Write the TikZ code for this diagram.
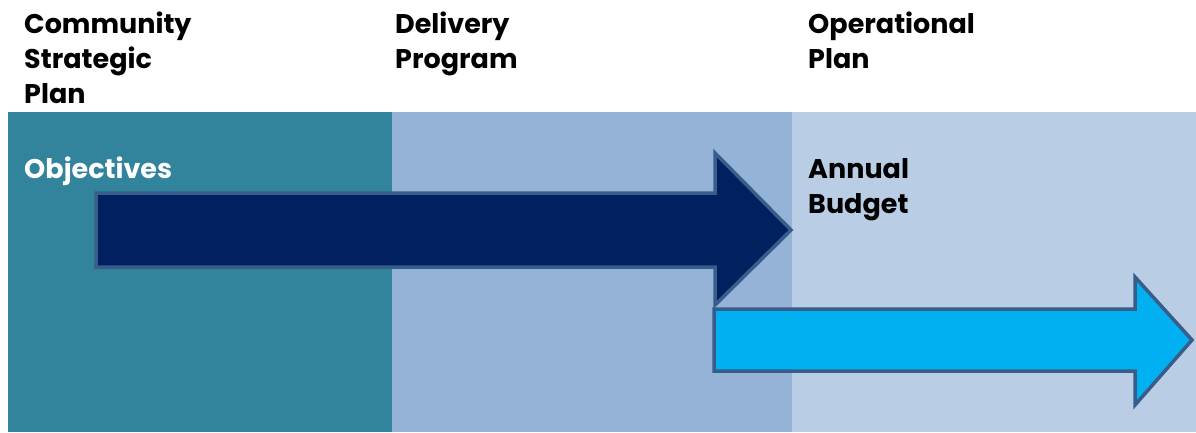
\documentclass[tikz,border=0pt]{standalone}
\usepackage{fontspec}
\setmainfont{Poppins}
\begin{document}
\begin{tikzpicture}[x=1pt,y=-1pt,
  bigarrow/.style={draw=arrowedge,line width=3.5pt,line join=miter},
  heading/.style={anchor=base west,inner sep=0pt,align=left,font=\fontsize{27}{35}\selectfont\bfseries,text=black},
  label/.style={heading}]
\definecolor{leftpanel}{HTML}{31849B}
\definecolor{midpanel}{HTML}{95B3D7}
\definecolor{rightpanel}{HTML}{B9CDE5}
\definecolor{arrowedge}{HTML}{385D8A}
\definecolor{darkarrow}{HTML}{002060}
\definecolor{lightarrow}{HTML}{00B0F0}
\useasboundingbox (0,0) rectangle (1196,432);
\clip (0,0) rectangle (1196,432);
% three column panels
\fill[leftpanel] (8,112) rectangle (392,432);
\fill[midpanel] (392,112) rectangle (792,432);
\fill[rightpanel] (792,112) rectangle (1196,432);
% column headings (anchored at the baseline of their last line)
\node[heading] (csp) at (24,103) {Community\\Strategic\\Plan};
\node[heading] (dp) at (395,68) {Delivery\\Program};
\node[heading] (op) at (808,68) {Operational\\Plan};
% labels inside the panels
\node[label,text=white] (obj) at (24,178) {Objectives};
\node[label] (ab) at (808,213) {Annual\\Budget};
% block arrows
\draw[bigarrow,fill=darkarrow] (96,193) -- (715,193) -- (715,153) -- (791,230)
  -- (715,305) -- (715,267) -- (96,267) -- cycle;
\draw[bigarrow,fill=lightarrow] (714,309) -- (1135,309) -- (1135,277) -- (1192,340)
  -- (1135,405) -- (1135,371) -- (714,371) -- cycle;
\end{tikzpicture}
\end{document}
